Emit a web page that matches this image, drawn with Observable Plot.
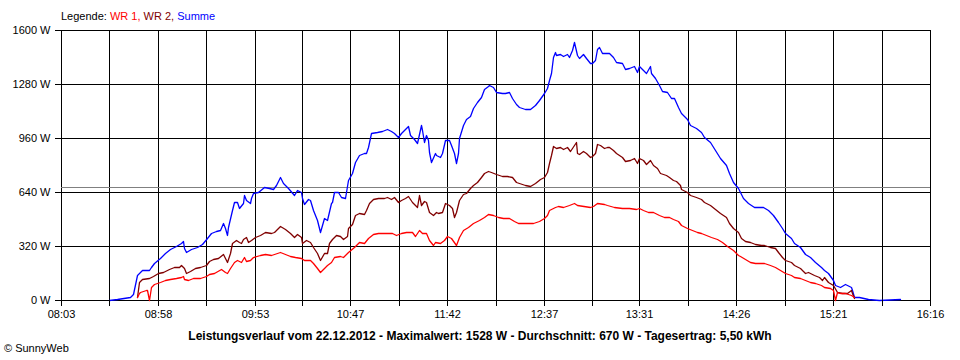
<!DOCTYPE html>
<html><head><meta charset="utf-8">
<script src="https://cdn.jsdelivr.net/npm/d3@7"></script>
<script src="https://cdn.jsdelivr.net/npm/@observablehq/plot@0.6"></script>
<style>
body{margin:0;background:#fff;}
#wrap{position:relative;width:960px;height:360px;font-family:"Liberation Sans",Arial,sans-serif;font-size:11px;color:#000;}
#wrap svg{position:absolute;left:0;top:0;}
.t{position:absolute;line-height:12px;white-space:nowrap;}
</style></head><body>
<div id="wrap"></div>
<script>
const seriesNames = ["WR 1", "WR 2", "Summe"];
const seriesColors = ["#ff0000", "#800000", "#0000ff"];
const xTickLabels = ["08:03","08:58","09:53","10:47","11:42","12:37","13:31","14:26","15:21","16:16"];
const yTicks = [0, 320, 640, 960, 1280, 1600];
const averageWatt = 670;
const captionText = "Leistungsverlauf vom 22.12.2012 - Maximalwert: 1528 W - Durchschnitt: 670 W - Tagesertrag: 5,50 kWh";

const sumTime = ["08:30","08:35","08:42","08:44","08:46","08:49","08:53","08:54","08:56","08:59","09:02","09:05","09:08","09:11","09:12","09:13","09:14","09:17","09:20","09:23","09:26","09:28","09:31","09:33","09:35","09:36","09:37","09:38","09:40","09:41","09:43","09:44","09:46","09:47","09:48","09:50","09:51","09:52","09:55","09:58","10:01","10:03","10:05","10:07","10:09","10:12","10:15","10:17","10:19","10:20","10:21","10:23","10:24","10:26","10:28","10:30","10:32","10:34","10:36","10:37","10:38","10:40","10:42","10:44","10:46","10:48","10:50","10:52","10:55","10:56","10:57","10:59","11:02","11:05","11:08","11:10","11:12","11:14","11:16","11:18","11:20","11:21","11:23","11:25","11:27","11:28","11:29","11:30","11:31","11:32","11:33","11:35","11:36","11:38","11:39","11:41","11:43","11:44","11:46","11:47","11:48","11:49","11:51","11:53","11:55","11:57","11:59","12:01","12:03","12:05","12:06","12:08","12:10","12:13","12:15","12:17","12:19","12:21","12:23","12:26","12:29","12:32","12:34","12:37","12:39","12:40","12:41","12:42","12:43","12:44","12:46","12:48","12:50","12:51","12:53","12:54","12:56","12:57","12:59","13:01","13:03","13:04","13:06","13:07","13:08","13:10","13:13","13:14","13:16","13:18","13:21","13:23","13:25","13:28","13:30","13:31","13:33","13:35","13:37","13:38","13:40","13:42","13:44","13:47","13:49","13:51","13:53","13:55","13:58","14:00","14:03","14:06","14:08","14:11","14:14","14:17","14:20","14:22","14:24","14:27","14:30","14:33","14:36","14:39","14:41","14:44","14:47","14:50","14:52","14:54","14:57","14:59","15:02","15:05","15:08","15:11","15:14","15:16","15:18","15:21","15:22","15:25","15:28","15:31","15:32","15:33","15:36","15:41","15:47","15:59"];
const sumWatt = [0,5,18,35,148,178,178,194,217,247,277,302,320,336,352,306,286,300,316,330,365,395,411,415,458,425,385,434,533,583,583,543,573,622,593,573,603,632,642,672,662,656,681,727,695,662,622,652,642,603,569,597,593,533,474,405,484,474,573,583,642,642,612,603,711,751,820,859,869,869,909,988,998,1003,1011,1003,988,964,988,1011,1031,978,952,928,1037,1007,938,978,948,879,820,869,859,849,869,948,948,918,869,814,869,958,1037,1071,1090,1136,1175,1205,1249,1270,1274,1260,1234,1229,1225,1234,1195,1162,1146,1132,1132,1156,1185,1225,1254,1304,1343,1442,1471,1452,1458,1446,1458,1438,1481,1528,1452,1432,1458,1432,1403,1403,1422,1486,1497,1462,1466,1462,1442,1412,1403,1367,1373,1387,1353,1387,1363,1343,1387,1343,1314,1274,1240,1234,1195,1195,1146,1106,1071,1037,1017,998,968,938,889,840,800,751,701,662,603,577,553,549,549,533,504,464,425,395,369,340,312,273,257,227,197,178,158,119,89,79,95,79,59,20,16,8,0,4];

const wr2Time = ["08:46","08:47","08:49","08:53","08:55","08:58","09:01","09:04","09:07","09:10","09:11","09:13","09:14","09:16","09:19","09:22","09:25","09:27","09:29","09:32","09:35","09:36","09:37","09:39","09:40","09:42","09:44","09:45","09:46","09:48","09:49","09:51","09:53","09:56","09:59","10:02","10:04","10:07","10:10","10:13","10:15","10:17","10:19","10:20","10:22","10:24","10:26","10:28","10:30","10:32","10:34","10:35","10:37","10:39","10:41","10:43","10:45","10:46","10:48","10:50","10:52","10:55","10:56","10:58","11:00","11:03","11:06","11:08","11:10","11:12","11:14","11:16","11:18","11:20","11:22","11:25","11:26","11:27","11:29","11:30","11:32","11:34","11:36","11:37","11:39","11:41","11:43","11:45","11:46","11:47","11:49","11:51","11:53","11:55","11:57","11:59","12:01","12:03","12:05","12:07","12:10","12:13","12:16","12:19","12:21","12:23","12:26","12:29","12:32","12:35","12:37","12:39","12:40","12:41","12:42","12:44","12:46","12:48","12:50","12:52","12:54","12:55","12:56","12:57","12:59","13:01","13:03","13:04","13:06","13:07","13:09","13:11","13:13","13:14","13:16","13:18","13:21","13:23","13:26","13:28","13:30","13:31","13:33","13:35","13:37","13:39","13:41","13:43","13:46","13:48","13:50","13:52","13:54","13:55","13:58","14:00","14:03","14:06","14:08","14:11","14:14","14:17","14:20","14:22","14:24","14:27","14:29","14:31","14:34","14:37","14:40","14:42","14:45","14:48","14:50","14:52","14:54","14:57","14:59","15:02","15:05","15:07","15:10","15:13","15:15","15:16","15:18","15:21","15:23","15:26","15:29","15:31","15:32","15:33"];
const wr2Watt = [20,104,122,128,142,158,168,182,194,198,207,188,162,174,188,198,207,233,241,247,273,247,227,277,336,356,346,336,360,371,346,356,375,385,405,395,405,439,419,399,375,391,375,340,356,346,316,277,237,280,280,340,360,385,379,360,379,425,450,504,514,510,533,573,597,603,603,609,597,612,583,593,603,616,583,553,622,563,589,583,523,504,523,514,523,573,563,543,494,523,593,628,632,662,681,701,731,754,764,760,747,737,737,731,701,691,681,676,691,715,731,760,810,859,913,899,909,893,909,885,918,938,873,865,885,873,849,853,869,924,918,899,905,909,889,869,849,826,830,843,814,840,830,806,830,800,780,751,741,731,711,707,681,656,642,622,612,597,583,563,537,517,490,454,425,401,365,350,346,330,326,326,316,306,286,257,237,227,207,188,158,168,148,138,119,138,109,89,49,43,43,59,40,10];

const wr1Time = ["08:46","08:47","08:48","08:51","08:52","08:53","08:54","08:56","08:59","09:02","09:05","09:08","09:11","09:12","09:13","09:15","09:18","09:22","09:25","09:27","09:30","09:34","09:36","09:37","09:39","09:41","09:43","09:45","09:47","09:48","09:50","09:52","09:56","09:59","10:02","10:04","10:07","10:10","10:13","10:16","10:19","10:21","10:24","10:26","10:28","10:30","10:32","10:34","10:36","10:38","10:41","10:43","10:46","10:49","10:52","10:55","10:57","11:00","11:03","11:07","11:11","11:13","11:16","11:19","11:22","11:24","11:26","11:28","11:30","11:32","11:34","11:35","11:38","11:40","11:42","11:44","11:47","11:49","11:51","11:54","11:57","12:00","12:03","12:05","12:08","12:11","12:14","12:17","12:20","12:22","12:25","12:28","12:31","12:34","12:37","12:39","12:40","12:43","12:45","12:48","12:51","12:54","12:56","13:03","13:05","13:07","13:11","13:13","13:17","13:21","13:25","13:29","13:31","13:33","13:36","13:39","13:42","13:45","13:48","13:50","13:53","13:55","13:58","14:01","14:04","14:06","14:09","14:12","14:15","14:18","14:21","14:24","14:27","14:28","14:31","14:34","14:37","14:40","14:42","14:45","14:48","14:51","14:54","14:57","14:59","15:02","15:05","15:08","15:11","15:14","15:16","15:19","15:21","15:22","15:23","15:25","15:28","15:31","15:33"];
const wr1Watt = [20,40,49,59,59,0,79,95,109,119,124,128,134,142,122,119,128,132,142,154,158,182,168,158,188,227,237,227,253,233,237,257,267,271,267,273,286,273,261,257,251,237,237,217,188,168,188,207,227,257,261,253,286,316,346,340,365,391,395,399,395,385,395,405,405,379,415,395,399,356,326,346,340,356,379,365,326,371,415,434,458,474,494,510,504,490,488,484,468,458,454,454,458,470,484,504,533,553,557,553,563,573,563,549,557,573,569,563,553,543,543,537,543,533,523,523,504,494,490,478,470,444,425,415,405,395,385,375,360,346,320,296,267,261,241,227,221,221,217,207,194,178,162,148,138,128,119,109,99,89,79,69,59,0,49,43,40,30,20];

const toMin = s => { const [h, m] = s.split(":").map(Number); return h * 60 + m; };
const zip = (ts, ws) => ts.map((t, i) => ({t: toMin(t), w: ws[i]}));
const seriesData = [zip(wr1Time, wr1Watt), zip(wr2Time, wr2Watt), zip(sumTime, sumWatt)];

const labelMins = xTickLabels.map(toMin);
const gridMins = [];
labelMins.forEach((m, i) => { gridMins.push(m); if (i < labelMins.length - 1) gridMins.push((m + labelMins[i + 1]) / 2); });
const labelAt = new Map(labelMins.map((m, i) => [m, xTickLabels[i]]));

const drawOrder = [2, 1, 0];
const chart = Plot.plot({
  width: 960, height: 360,
  marginLeft: 61, marginRight: 30, marginTop: 30, marginBottom: 60,
  style: {fontFamily: '"Liberation Sans", Arial, sans-serif', fontSize: "11px", background: "transparent", color: "black"},
  x: {domain: [labelMins[0], labelMins[labelMins.length - 1]], round: true, label: null},
  y: {domain: [yTicks[0], yTicks[yTicks.length - 1]], round: true, label: null},
  marks: [
    Plot.ruleY(yTicks, {stroke: "black", shapeRendering: "crispEdges"}),
    Plot.ruleX(gridMins, {stroke: "black", shapeRendering: "crispEdges"}),
    Plot.ruleY([averageWatt], {stroke: "#808080", shapeRendering: "crispEdges"}),
    ...drawOrder.map(i => Plot.line(seriesData[i], {x: "t", y: "w", stroke: seriesColors[i], strokeWidth: 1.3})),
    Plot.axisY(yTicks, {tickSize: 6, tickPadding: 5, tickFormat: d => `${d} W`, strokeOpacity: 1, label: null}),
    Plot.axisX(gridMins, {tickSize: 6, tickPadding: 4, tickFormat: d => labelAt.get(d) ?? "", strokeOpacity: 1, label: null})
  ]
});
const wrap = document.getElementById("wrap");
wrap.appendChild(chart);

const legend = document.createElement("div");
legend.className = "t";
legend.style.left = "61px"; legend.style.top = "10px";
legend.innerHTML = "Legende: " + seriesNames.map((n, i) =>
  `<span style="color:${seriesColors[i]}">${n}${i < seriesNames.length - 1 ? "," : ""}</span>`).join(" ");
wrap.appendChild(legend);

const cap = document.createElement("div");
cap.className = "t";
cap.style.left = "0"; cap.style.width = "960px"; cap.style.textAlign = "center";
cap.style.top = "330px"; cap.style.fontWeight = "bold"; cap.style.fontSize = "12px";
cap.textContent = captionText;
wrap.appendChild(cap);

const copy = document.createElement("div");
copy.className = "t";
copy.style.left = "4px"; copy.style.top = "342px";
copy.textContent = "© SunnyWeb";
wrap.appendChild(copy);
</script>
</body></html>
